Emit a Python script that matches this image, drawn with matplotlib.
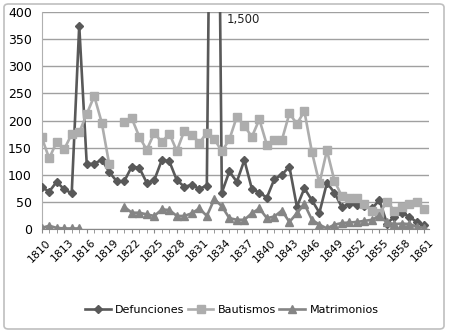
import numpy as np
import matplotlib
matplotlib.use('Agg')
import matplotlib.pyplot as plt
import matplotlib.patches as patches
import matplotlib.transforms as mtransforms

nan = np.nan

years = list(range(1810, 1862))

defunciones = [77, 69, 87, 73, 66, 375, 120, 120, 128, 105,
               88, 88, 115, 113, 85, 90, 127, 125, 90, 78,
               81, 74, 80, 1500, 67, 106, 87, 127, 74, 67,
               58, 92, 100, 115, 41, 75, 53, 30, 85, 67,
               40, 47, 45, 42, 38, 53, 10, 23, 29, 23,
               12, 7]

bautismos = [169, 130, 161, 147, 175, 178, 212, 245, 196, 119,
             nan, 198, 204, 170, 146, 177, 160, 176, 144, 181,
             174, 159, 177, 166, 143, 165, 207, 190, 170, 202,
             155, 164, 164, 213, 194, 217, 142, 84, 145, 89,
             60, 57, 58, 47, 34, 29, 50, 34, 41, 47,
             50, 37]

matrimonios = [2, 6, 2, 1, 1, 1, nan, nan, nan, nan,
               nan, 41, 30, 30, 27, 24, 36, 35, 24, 24,
               29, 38, 24, 55, 42, 20, 17, 17, 29, 38,
               20, 23, 34, 13, 29, 46, 17, 8, 1, 8,
               11, 12, 13, 15, 17, 24, 12, 9, 10, 9,
               4, 2]

series = [
    ('Defunciones', defunciones, '#595959', 'D', 4.5),
    ('Bautismos', bautismos, '#ADADAD', 's', 5.5),
    ('Matrimonios', matrimonios, '#858585', '^', 6),
]

fig = plt.figure(figsize=(4.51, 3.36), dpi=100)
ax = fig.add_axes([41.7 / 451, (336 - 229) / 336, (429 - 41.7) / 451, 217 / 336])

# marco del gráfico
border = patches.FancyBboxPatch((4 / 451, 7 / 336), 440 / 451, 325 / 336,
                                boxstyle='round,pad=0,rounding_size=0.01',
                                transform=fig.transFigure, facecolor='none',
                                edgecolor='#BFBFBF', linewidth=1.2)
fig.patches.append(border)

for i, (name, vals, color, marker, ms) in enumerate(series):
    ax.plot(years, vals, color=color, marker=marker, markersize=ms,
            linewidth=1.9, label=name, zorder=3 + i, clip_on=True)

ax.text(1834.6, 387, '1,500', fontsize=8.5, va='center', ha='left', color='#222222')

ax.set_xlim(1810, 1861.6)
ax.set_ylim(0, 400)
ax.set_yticks(range(0, 401, 50))
ax.set_xticks(years[::3])
ax.set_xticks(years, minor=True)
ax.set_xticklabels([str(y) for y in years[::3]], rotation=45, ha='right',
                   rotation_mode='anchor', fontsize=7.8)
ax.tick_params(axis='y', length=0, pad=7, labelsize=9)
ax.tick_params(axis='x', which='both', length=3, color='#888888', direction='out', pad=3)

# desplazar etiquetas del eje x un poco a la derecha
shift = mtransforms.ScaledTranslation(4 / 100, 0, fig.dpi_scale_trans)
for lbl in ax.get_xticklabels():
    lbl.set_transform(lbl.get_transform() + shift)

ax.grid(axis='y', color='#A0A0A0', linewidth=1)
ax.set_axisbelow(True)
for side in ['top', 'right']:
    ax.spines[side].set_visible(False)
ax.spines['left'].set_color('#B0B0B0')
ax.spines['bottom'].set_color('#888888')

fig.legend(loc='center', bbox_to_anchor=(0.514, 0.077), ncol=3, frameon=False,
           fontsize=8, handlelength=2.3, handletextpad=0.4, columnspacing=0.3)

fig.savefig('out.png', dpi=100)
